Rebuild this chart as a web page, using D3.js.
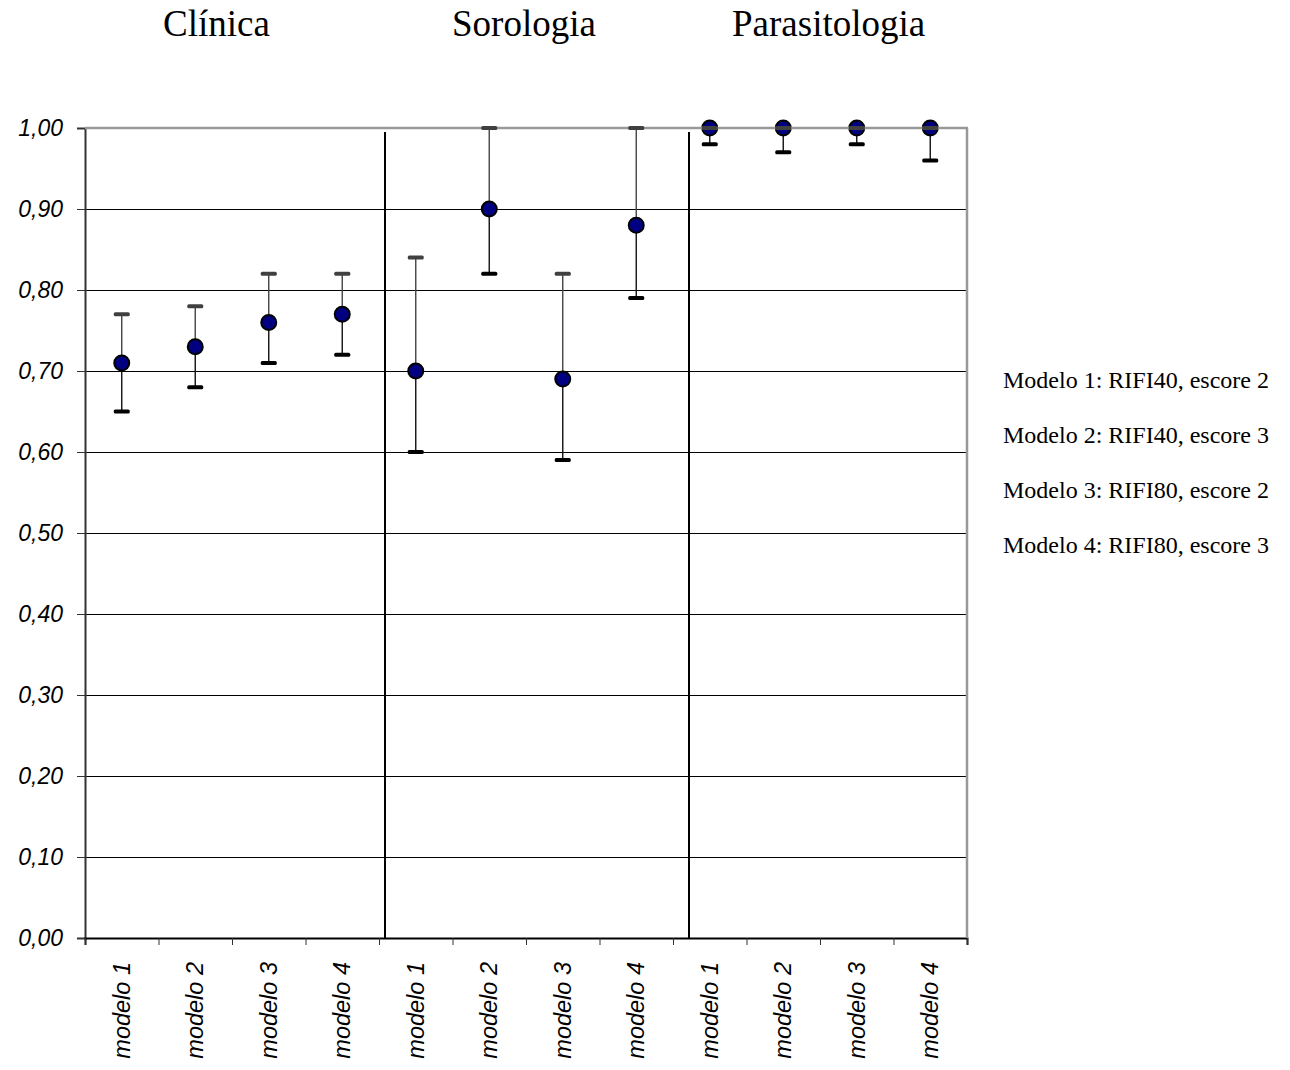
<!DOCTYPE html>
<meta charset="utf-8">
<style>
body { margin: 0; background: #fff; }
.axis text { font-family: "Liberation Sans", Arial, sans-serif; font-style: italic; fill: #000; }
</style>
<body>
<script src="https://d3js.org/d3.v7.min.js"></script>
<script>

// data
let groups = ['Clínica', 'Sorologia', 'Parasitologia'];
let models = ['modelo 1', 'modelo 2', 'modelo 3', 'modelo 4'];
let estimates = [0.71, 0.73, 0.76, 0.77, 0.70, 0.90, 0.69, 0.88, 1.00, 1.00, 1.00, 1.00];
let lower     = [0.65, 0.68, 0.71, 0.72, 0.60, 0.82, 0.59, 0.79, 0.98, 0.97, 0.98, 0.96];
let upper     = [0.77, 0.78, 0.82, 0.82, 0.84, 1.00, 0.82, 1.00, 1.00, 1.00, 1.00, 1.00];
let yTicks = [0, 0.1, 0.2, 0.3, 0.4, 0.5, 0.6, 0.7, 0.8, 0.9, 1.0];
let legendItems = [
	'Modelo 1: RIFI40, escore 2',
	'Modelo 2: RIFI40, escore 3',
	'Modelo 3: RIFI80, escore 2',
	'Modelo 4: RIFI80, escore 3'
];

// layout
let width = 1290, height = 1070;
let plotLeft = 85, plotRight = 967, plotTop = 128, plotBottom = 938;
let titleX = [163, 452, 732];   // group titles sit a bit off the group centres
let sepShift = [6, 16];          // hand drawn separators, not exactly on the ticks

let cats = d3.range(groups.length * models.length);
let catLabels = cats.map(i => models[i % models.length]);

let x = d3.scaleBand().domain(cats).range([plotLeft, plotRight]).padding(0);
let xEdge = d3.scaleLinear().domain([0, cats.length]).range([plotLeft, plotRight]);
let y = d3.scaleLinear().domain([0, 1]).range([plotBottom, plotTop]);

let svg = d3.select('body').append('svg')
	.attr('width', width)
	.attr('height', height);

// grid
svg.append('g').selectAll('line')
	.data(yTicks.filter(d => d > 0 && d < 1))
	.enter().append('line')
	.attr('x1', plotLeft).attr('x2', plotRight)
	.attr('y1', d => y(d) + 0.5).attr('y2', d => y(d) + 0.5)
	.attr('stroke', '#000').attr('stroke-width', 1)
	.attr('shape-rendering', 'crispEdges');

// separators between groups
svg.append('g').selectAll('line')
	.data(d3.range(1, groups.length))
	.enter().append('line')
	.attr('x1', (d, i) => xEdge(d * models.length) + sepShift[i])
	.attr('x2', (d, i) => xEdge(d * models.length) + sepShift[i])
	.attr('y1', plotTop + 4).attr('y2', plotBottom)
	.attr('stroke', '#000').attr('stroke-width', 2);

// y axis
let yAxis = svg.append('g').attr('class', 'axis')
	.attr('transform', 'translate(' + plotLeft + ',0)')
	.call(d3.axisLeft(y).tickValues(yTicks).tickSize(8).tickPadding(14)
		.tickFormat(d => d.toFixed(2).replace('.', ',')));
yAxis.selectAll('text').style('font-size', '23px');
yAxis.select('.domain').attr('stroke', '#333').attr('stroke-width', 2);
yAxis.selectAll('.tick line').attr('stroke', '#333');

// x axis: ticks on the category edges, labels on the centres
let xAxis = svg.append('g').attr('class', 'axis')
	.attr('transform', 'translate(0,' + plotBottom + ')')
	.call(d3.axisBottom(xEdge).tickValues(d3.range(cats.length + 1)).tickSize(7).tickFormat(''));
xAxis.select('.domain').attr('stroke', '#000').attr('stroke-width', 2);
xAxis.selectAll('.tick line').attr('stroke', '#333');

svg.append('g').attr('class', 'axis').selectAll('text')
	.data(cats)
	.enter().append('text')
	.attr('transform', d => 'translate(' + (x(d) + x.bandwidth() / 2) + ',' + 962 + ') rotate(-90)')
	.attr('dy', '0.35em')
	.attr('text-anchor', 'end')
	.style('font-size', '23.5px')
	.text(d => catLabels[d]);

// error bars
let cx = d => x(d) + x.bandwidth() / 2;
let bars = svg.append('g');
bars.selectAll('.up')
	.data(cats).enter().append('line')
	.attr('x1', cx).attr('x2', cx)
	.attr('y1', d => y(upper[d])).attr('y2', d => y(estimates[d]))
	.attr('stroke', '#444').attr('stroke-width', 1.4);
bars.selectAll('.down')
	.data(cats).enter().append('line')
	.attr('x1', cx).attr('x2', cx)
	.attr('y1', d => y(estimates[d])).attr('y2', d => y(lower[d]))
	.attr('stroke', '#111').attr('stroke-width', 1.4);
bars.selectAll('rect')
	.data(cats).enter().append('rect')
	.attr('x', d => cx(d) - 8).attr('y', d => y(lower[d]) - 2)
	.attr('width', 16).attr('height', 4).attr('rx', 1.5)
	.attr('fill', '#000');

// points
svg.append('g').selectAll('circle')
	.data(cats).enter().append('circle')
	.attr('cx', cx).attr('cy', d => y(estimates[d]))
	.attr('r', 7.5)
	.attr('fill', '#000080')
	.attr('stroke', '#000').attr('stroke-width', 2);

// plot border top and right
svg.append('line')
	.attr('x1', plotLeft).attr('x2', plotRight + 1)
	.attr('y1', y(1)).attr('y2', y(1))
	.attr('stroke', '#999').attr('stroke-width', 2.5);
svg.append('line')
	.attr('x1', plotRight).attr('x2', plotRight)
	.attr('y1', y(1)).attr('y2', plotBottom)
	.attr('stroke', '#999').attr('stroke-width', 2.5);

// upper caps
svg.append('g').selectAll('rect')
	.data(cats).enter().append('rect')
	.attr('x', d => cx(d) - 8).attr('y', d => y(upper[d]) - 2)
	.attr('width', 16).attr('height', 4).attr('rx', 1.5)
	.attr('fill', '#404040');

// group titles
svg.append('g').selectAll('text')
	.data(groups).enter().append('text')
	.attr('x', (d, i) => titleX[i]).attr('y', 36)
	.style('font-family', '"Liberation Serif", "Times New Roman", serif')
	.style('font-size', '37px')
	.text(d => d);

// legend
svg.append('g').selectAll('text')
	.data(legendItems).enter().append('text')
	.attr('x', 1003).attr('y', (d, i) => 388 + i * 55)
	.style('font-family', '"Liberation Serif", "Times New Roman", serif')
	.style('font-size', '24px')
	.text(d => d);

</script>
</body>
